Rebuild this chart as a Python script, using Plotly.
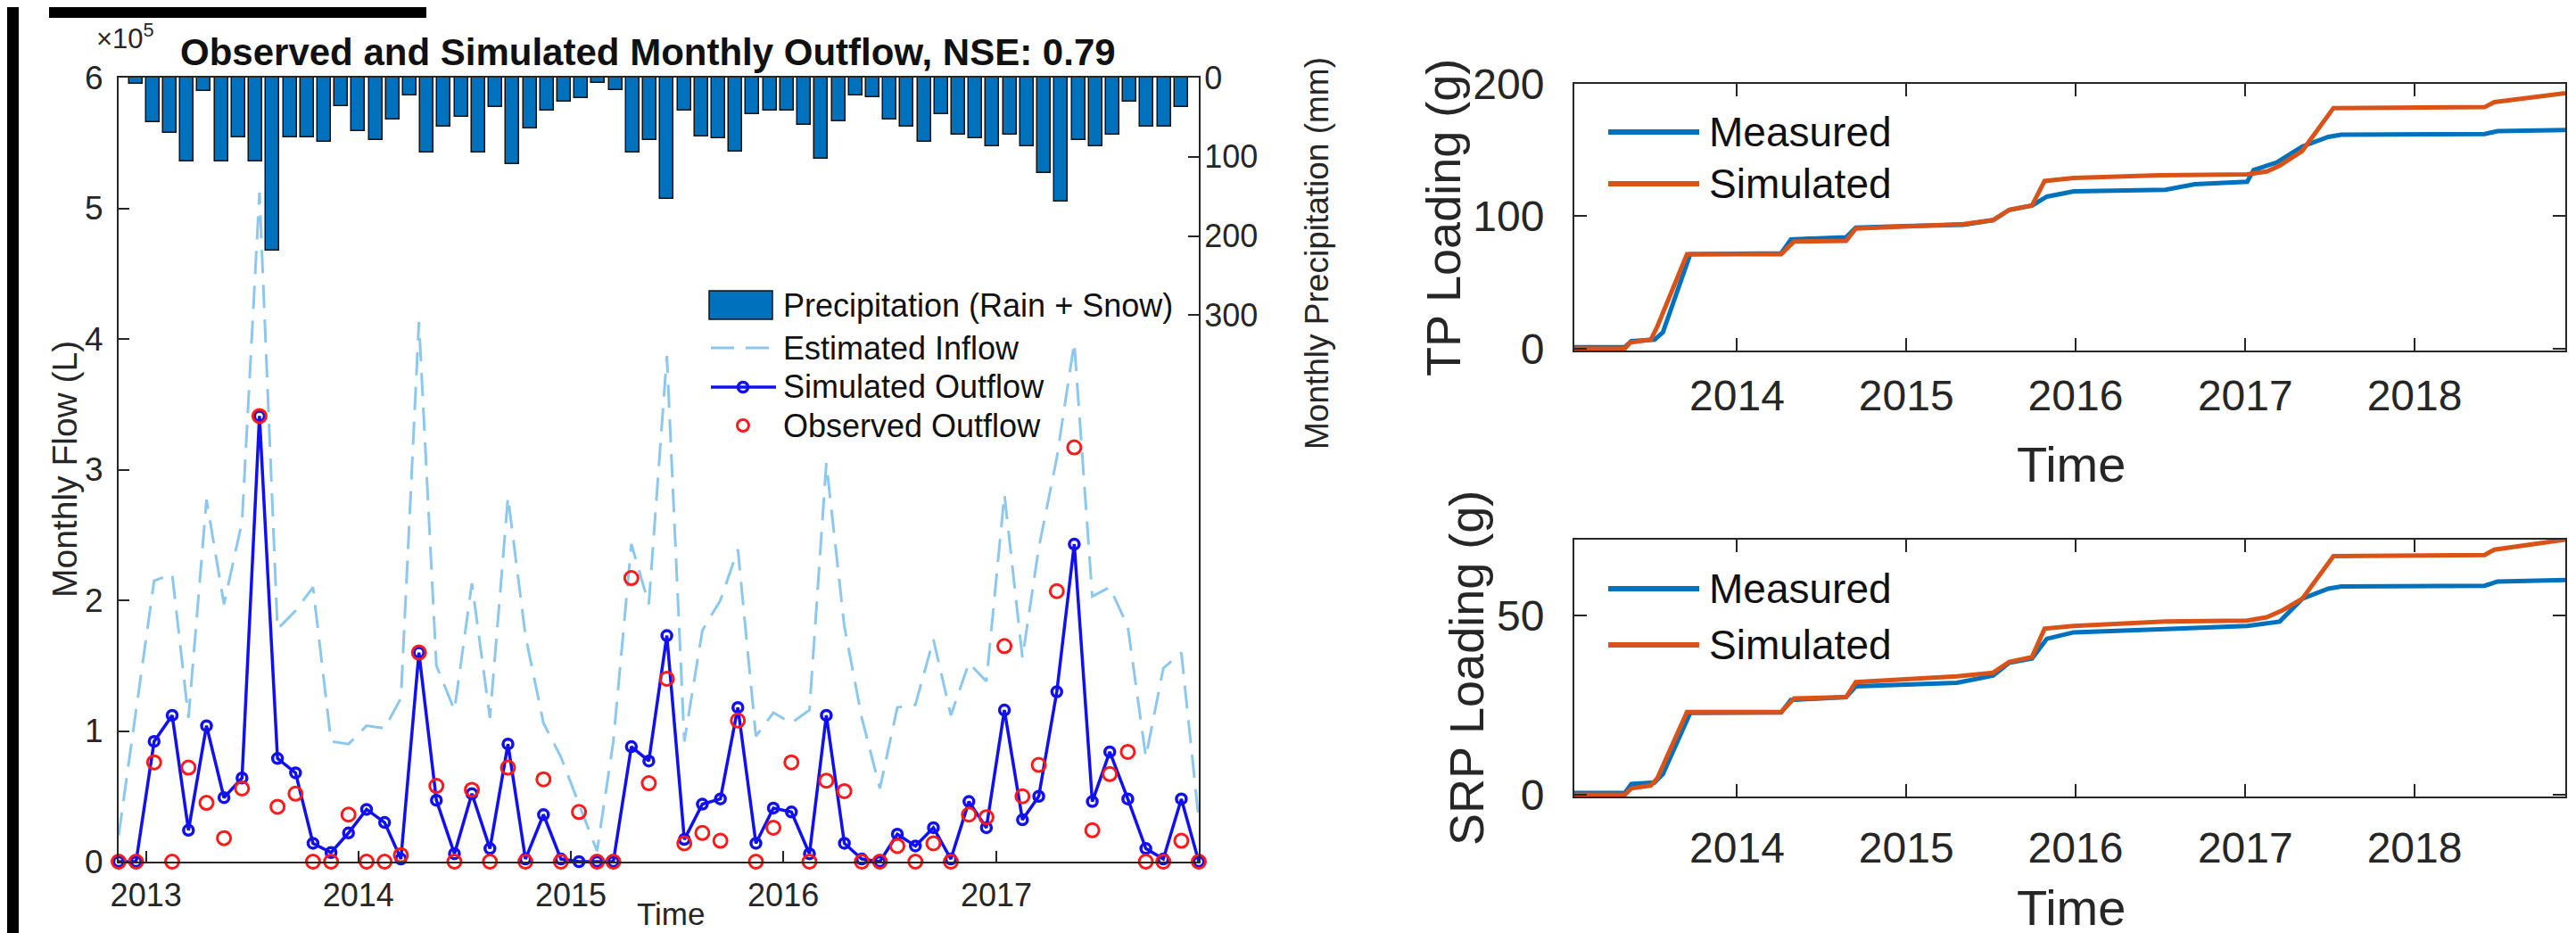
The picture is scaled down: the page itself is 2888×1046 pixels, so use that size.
import plotly.graph_objects as go
import pandas as pd

W, H = 2888, 1046
FONT = "Liberation Sans, Arial, Helvetica, sans-serif"
AX = "#262626"

# ---------------- Left panel data (monthly, Nov 2012 - Dec 2017) ----------------
n_months = 62
flow_dates = [(pd.Timestamp("2012-11-01") + pd.DateOffset(months=i) + pd.Timedelta(days=14)).strftime("%Y-%m-%d")
              for i in range(n_months)]

# monthly flows in units of 1e5 L
inflow_est = [0.20, 1.15, 2.15, 2.20, 1.10, 2.77, 1.97, 2.60, 5.12, 1.78, 1.92, 2.10, 0.92, 0.90, 1.04, 1.02,
              1.25, 4.13, 1.50, 1.16, 2.13, 1.10, 2.79, 1.73, 1.06, 0.80, 0.44, 0.08, 0.92, 2.43, 1.97, 3.87,
              0.92, 1.77, 2.00, 2.39, 0.96, 1.14, 1.06, 1.16, 3.05, 1.80, 1.10, 0.56, 1.18, 1.20, 1.70, 1.12,
              1.52, 1.38, 2.81, 1.56, 2.40, 3.09, 3.97, 2.03, 2.10, 1.80, 0.80, 1.48, 1.60, 0.32]
sim_outflow = [0.00, 0.00, 0.92, 1.12, 0.24, 1.04, 0.49, 0.64, 3.41, 0.79, 0.68, 0.14, 0.07, 0.22, 0.40, 0.30,
               0.02, 1.60, 0.47, 0.06, 0.52, 0.10, 0.90, 0.02, 0.36, 0.02, 0.00, 0.00, 0.00, 0.88, 0.77, 1.73,
               0.17, 0.44, 0.48, 1.18, 0.14, 0.41, 0.38, 0.06, 1.12, 0.14, 0.02, 0.00, 0.21, 0.12, 0.26, 0.02,
               0.46, 0.26, 1.16, 0.32, 0.50, 1.30, 2.43, 0.46, 0.84, 0.48, 0.10, 0.02, 0.48, 0.00]
obs_outflow = [0.00, 0.00, 0.76, 0.00, 0.72, 0.45, 0.18, 0.56, 3.41, 0.42, 0.52, 0.00, 0.00, 0.36, 0.00, 0.00,
               0.05, 1.60, 0.58, 0.00, 0.55, 0.00, 0.72, 0.00, 0.63, 0.00, 0.38, 0.00, 0.00, 2.17, 0.60, 1.40,
               0.14, 0.22, 0.16, 1.08, 0.00, 0.26, 0.76, 0.00, 0.62, 0.54, 0.00, 0.00, 0.12, 0.00, 0.14, 0.00,
               0.36, 0.34, 1.65, 0.50, 0.74, 2.07, 3.17, 0.24, 0.67, 0.84, 0.00, 0.00, 0.16, 0.00]

# monthly precipitation (mm), bars drawn on their own index axis
precip_mm = [8, 56, 70, 106, 17, 106, 76, 106, 218, 76, 76, 81, 36, 68, 79, 53, 23, 95, 62, 49,
             95, 37, 109, 64, 42, 30, 26, 7, 16, 95, 79, 153, 42, 74, 77, 93, 46, 42, 42, 60,
             102, 55, 23, 25, 53, 62, 81, 46, 72, 77, 87, 72, 87, 121, 157, 79, 87, 72, 30, 62, 62, 37]
precip_idx = list(range(1, len(precip_mm) + 1))

flow_ticks = [0, 1, 2, 3, 4, 5, 6]
precip_ticks = [0, 100, 200, 300]
year_ticks_left = ["2013-01-01", "2014-01-01", "2015-01-01", "2016-01-01", "2017-01-01"]
year_labels_left = ["2013", "2014", "2015", "2016", "2017"]

# ---------------- Right panels data (cumulative loads) ----------------
tp_meas_dates = ["2013-01-14", "2013-05-04", "2013-05-18", "2013-07-07", "2013-07-25", "2013-09-22", "2014-04-06",
                 "2014-04-27", "2014-08-24", "2014-09-14", "2014-12-28", "2015-05-04", "2015-07-07", "2015-08-11",
                 "2015-09-29", "2015-10-31", "2015-12-28", "2016-07-13", "2016-09-14", "2017-01-05", "2017-01-19",
                 "2017-03-09", "2017-05-04", "2017-06-29", "2017-07-27", "2018-06-01", "2018-06-29", "2018-11-22"]
tp_meas = [1.1, 1.1, 5.6, 6.7, 12.3, 71.3, 72.0, 82.5, 84.1, 91.4, 92.5, 93.6, 97.0, 104.8,
           108.1, 114.8, 118.8, 120.0, 124.2, 126.0, 134.9, 140.5, 152.7, 159.9, 161.6, 162.1, 164.3, 165.2]

tp_sim_dates = ["2013-01-14", "2013-05-04", "2013-05-15", "2013-06-29", "2013-07-13", "2013-09-15", "2014-04-06",
                "2014-05-04", "2014-08-24", "2014-09-14", "2015-05-04", "2015-07-07", "2015-08-11", "2015-09-29",
                "2015-10-26", "2015-12-28", "2016-06-29", "2017-01-05", "2017-02-16", "2017-03-16", "2017-05-04",
                "2017-07-10", "2018-06-01", "2018-06-22", "2018-11-22"]
tp_sim = [0.0, 0.0, 4.5, 6.7, 16.7, 71.3, 71.3, 80.9, 81.4, 90.7, 94.1, 97.0, 104.8, 108.1,
          126.6, 128.9, 130.9, 131.6, 133.8, 138.2, 149.4, 181.7, 182.4, 186.2, 192.9]

srp_meas_dates = ["2013-01-14", "2013-05-04", "2013-05-18", "2013-07-07", "2013-07-25", "2013-09-22", "2014-04-06",
                  "2014-04-27", "2014-08-24", "2014-09-14", "2015-04-20", "2015-07-07", "2015-08-11", "2015-09-29",
                  "2015-10-31", "2015-12-28", "2016-07-13", "2017-01-05", "2017-03-16", "2017-05-04", "2017-06-29",
                  "2017-07-27", "2018-06-01", "2018-06-29", "2018-11-22"]
srp_meas = [0.5, 0.5, 3.0, 3.4, 5.8, 22.9, 23.0, 26.5, 27.3, 30.3, 31.3, 33.3, 36.9, 38.1,
            43.6, 45.4, 46.3, 47.2, 48.4, 54.8, 57.6, 58.2, 58.4, 59.6, 60.0]

srp_sim_dates = ["2013-01-14", "2013-05-04", "2013-05-18", "2013-06-29", "2013-07-13", "2013-09-15", "2014-04-06",
                 "2014-05-04", "2014-08-24", "2014-09-14", "2015-04-20", "2015-07-07", "2015-08-11", "2015-09-29",
                 "2015-10-26", "2015-12-28", "2016-07-13", "2017-01-05", "2017-02-16", "2017-03-23", "2017-05-04",
                 "2017-07-10", "2018-06-01", "2018-06-22", "2018-11-22"]
srp_sim = [0.0, 0.0, 1.8, 2.6, 4.6, 23.1, 23.1, 26.9, 27.3, 31.5, 33.1, 34.1, 37.1, 38.5,
           46.4, 47.2, 48.4, 48.7, 49.6, 51.6, 54.8, 66.7, 67.0, 68.5, 71.3]

year_ticks_right = ["2014-01-01", "2015-01-01", "2016-01-01", "2017-01-01", "2018-01-01"]
year_labels_right = ["2014", "2015", "2016", "2017", "2018"]

# colours
C_BAR = "#0072BD"
C_INFLOW = "#8cc8ee"
C_SIM = "#1010f0"
C_OBS = "#ff1a1a"
C_MEAS = "#0072BD"
C_SIMR = "#D95319"


def px(x):
    return x / W


def py(y):
    return 1 - y / H


fig = go.Figure()

fig.add_trace(go.Bar(x=precip_idx, y=precip_mm, xaxis="x", yaxis="y", width=0.78,
                     marker=dict(color=C_BAR, line=dict(color="#111111", width=1.5)), showlegend=False))
fig.add_trace(go.Scatter(x=flow_dates, y=inflow_est, xaxis="x2", yaxis="y2", mode="lines",
                         line=dict(color=C_INFLOW, width=3, dash="26px,13px"), showlegend=False))
fig.add_trace(go.Scatter(x=flow_dates, y=sim_outflow, xaxis="x2", yaxis="y2", mode="lines+markers",
                         line=dict(color=C_SIM, width=3.5),
                         marker=dict(symbol="circle-open", size=11, color=C_SIM, line=dict(width=3.5)),
                         cliponaxis=False, showlegend=False))
fig.add_trace(go.Scatter(x=flow_dates, y=obs_outflow, xaxis="x2", yaxis="y2", mode="markers",
                         marker=dict(symbol="circle-open", size=15, color=C_OBS, line=dict(width=3)),
                         cliponaxis=False, showlegend=False))

fig.add_trace(go.Scatter(x=tp_meas_dates, y=tp_meas, xaxis="x3", yaxis="y3", mode="lines",
                         line=dict(color=C_MEAS, width=5), showlegend=False))
fig.add_trace(go.Scatter(x=tp_sim_dates, y=tp_sim, xaxis="x3", yaxis="y3", mode="lines",
                         line=dict(color=C_SIMR, width=5), showlegend=False))
fig.add_trace(go.Scatter(x=srp_meas_dates, y=srp_meas, xaxis="x4", yaxis="y4", mode="lines",
                         line=dict(color=C_MEAS, width=5), showlegend=False))
fig.add_trace(go.Scatter(x=srp_sim_dates, y=srp_sim, xaxis="x4", yaxis="y4", mode="lines",
                         line=dict(color=C_SIMR, width=5), showlegend=False))

left_dom_x = [px(125), px(1336)]
left_dom_y = [py(958), py(79)]
tp_dom_x = [px(1757), px(2868)]
tp_dom_y = [py(385), py(86)]
srp_dom_y = [py(885), py(597)]

common = dict(showgrid=False, zeroline=False, linecolor=AX, linewidth=2, tickcolor=AX,
              tickwidth=2, ticks="inside", automargin=False)

fig.update_layout(
    width=W, height=H, margin=dict(l=0, r=0, t=0, b=0, pad=0, autoexpand=False),
    paper_bgcolor="white", plot_bgcolor="white",
    font=dict(family=FONT, color=AX),
    bargap=0,
    xaxis=dict(domain=left_dom_x, range=[0.01, 63.02], visible=False, anchor="y", automargin=False),
    yaxis=dict(domain=left_dom_y, range=[990, 0], side="right", anchor="x", tickvals=precip_ticks,
               ticklen=12, tickfont=dict(size=36, family=FONT, color=AX), showline=True,
               ticklabelstandoff=-3, **common),
    xaxis2=dict(overlaying="x", anchor="y2", type="date", range=[flow_dates[0], flow_dates[-1]],
                tickvals=year_ticks_left, ticktext=year_labels_left, ticklen=12, showline=True, mirror=True,
                tickfont=dict(size=36, family=FONT, color=AX), ticklabelstandoff=5, **common),
    yaxis2=dict(overlaying="y", anchor="x2", side="left", range=[0, 6], tickvals=flow_ticks, ticklen=12,
                showline=True, tickfont=dict(size=37, family=FONT, color=AX), ticklabelstandoff=8, **common),
    xaxis3=dict(domain=tp_dom_x, anchor="y3", type="date", range=["2013-01-15", "2018-11-22"],
                tickvals=year_ticks_right, ticktext=year_labels_right, ticklen=14, showline=True,
                mirror="ticks", tickfont=dict(size=48, family=FONT, color=AX), ticklabelstandoff=7, **common),
    yaxis3=dict(domain=tp_dom_y, anchor="x3", range=[-1.5, 200], tickvals=[0, 100, 200], ticklen=14,
                showline=True, mirror="ticks", tickfont=dict(size=48, family=FONT, color=AX),
                ticklabelstandoff=22, **common),
    xaxis4=dict(domain=tp_dom_x, anchor="y4", type="date", range=["2013-01-15", "2018-11-22"],
                tickvals=year_ticks_right, ticktext=year_labels_right, ticklen=14, showline=True,
                mirror="ticks", tickfont=dict(size=48, family=FONT, color=AX), ticklabelstandoff=14, **common),
    yaxis4=dict(domain=srp_dom_y, anchor="x4", range=[-0.5, 71.3], tickvals=[0, 50], ticklen=14,
                showline=True, mirror="ticks", tickfont=dict(size=48, family=FONT, color=AX),
                ticklabelstandoff=22, **common),
)

ann = []


def text(x, y, s, size, angle=0, xanchor="center", yanchor="middle", color="#111111"):
    ann.append(dict(x=px(x), y=py(y), xref="paper", yref="paper", text=s, showarrow=False,
                    textangle=angle, xanchor=xanchor, yanchor=yanchor,
                    font=dict(size=size, family=FONT, color=color)))


text(718, 50, "<b>Observed and Simulated Monthly Outflow, NSE: 0.79</b>", 42)
text(98, 33, "×10<sup>5</sup>", 31, xanchor="left", color=AX)
text(64, 518, "Monthly Flow (L)", 39, angle=-90, color=AX)
text(1468, 276, "Monthly Precipitation (mm)", 37, angle=-90, color=AX)
text(744, 1016, "Time", 35, color=AX)
text(1610, 236, "TP Loading (g)", 54, angle=-90, color=AX)
text(1636, 741, "SRP Loading (g)", 54, angle=-90, color=AX)
text(2314, 512, "Time", 56, color=AX)
text(2314, 1009, "Time", 56, color=AX)

# left legend labels
text(868, 334, "Precipitation (Rain + Snow)", 36, xanchor="left")
text(868, 382, "Estimated Inflow", 36, xanchor="left")
text(868, 426, "Simulated Outflow", 36, xanchor="left")
text(868, 469, "Observed Outflow", 36, xanchor="left")
# right legends
for yy in (140, 652):
    text(1906, yy, "Measured", 46, xanchor="left")
for yy in (198, 715):
    text(1906, yy, "Simulated", 46, xanchor="left")

fig.update_layout(annotations=ann)

shapes = []


def rect(x0, y0, x1, y1, fill, line_color=None, lw=0):
    shapes.append(dict(type="rect", xref="paper", yref="paper", x0=px(x0), x1=px(x1), y0=py(y1), y1=py(y0),
                       fillcolor=fill, line=dict(color=line_color or fill, width=lw), layer="above"))


def seg(x0, y0, x1, y1, color, width, dash=None):
    shapes.append(dict(type="line", xref="paper", yref="paper", x0=px(x0), x1=px(x1), y0=py(y0), y1=py(y1),
                       line=dict(color=color, width=width, dash=dash) if dash else dict(color=color, width=width),
                       layer="above"))


def circ(cx, cy, r, color, lw):
    shapes.append(dict(type="circle", xref="paper", yref="paper", x0=px(cx - r), x1=px(cx + r),
                       y0=py(cy + r), y1=py(cy - r), line=dict(color=color, width=lw), layer="above"))


# legend symbols (left)
rect(787, 318, 858, 350, C_BAR, "#111111", 1.5)
seg(789, 382, 858, 382, C_INFLOW, 3, "26px,13px")
seg(789, 426, 862, 426, C_SIM, 3.5)
circ(825, 426, 5.5, C_SIM, 3.5)
circ(825, 469, 6.5, C_OBS, 3)
# legend symbols (right)
for yy in (140, 652):
    seg(1795, yy, 1897, yy, C_MEAS, 6)
for yy in (198, 715):
    seg(1795, yy, 1897, yy, C_SIMR, 6)

# black framing marks of the source image
rect(0, 0, 13, 1046, "black")
rect(47, 0, 470, 12, "black")

fig.update_layout(shapes=shapes)

fig.write_html("out.html")
